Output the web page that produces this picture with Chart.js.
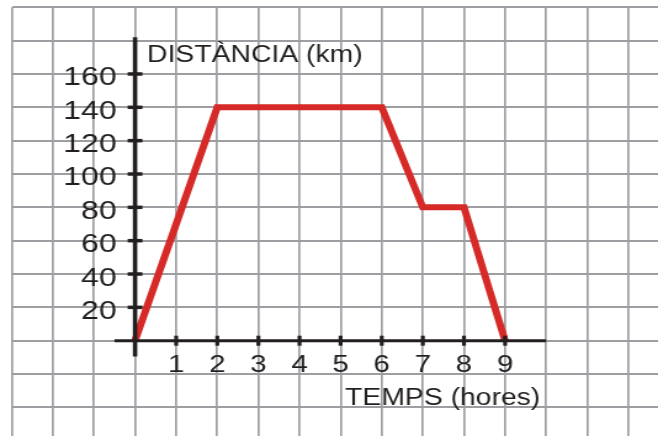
<!DOCTYPE html>
<html>
<head>
<meta charset="utf-8">
<script src="https://cdn.jsdelivr.net/npm/chart.js@4"></script>
<style>
  html, body { margin: 0; padding: 0; background: #fff; }
  #chart { display: block; }
</style>
</head>
<body>
<!-- drawn narrow and stretched wide, like the squashed-grid original -->
<canvas id="chart" width="534" height="436" style="width:658px;height:436px"></canvas>
<script>
const hours = [0, 2, 6, 7, 8, 9];
const distanceKm = [0, 140, 140, 80, 80, 0];
const hourTicks = [1, 2, 3, 4, 5, 6, 7, 8, 9];
const kmTicks = [20, 40, 60, 80, 100, 120, 140, 160];
const xTitle = 'TEMPS (hores)';
const yTitle = 'DISTÀNCIA (km)';

const ink = '#231f20';
const gridGray = '#9d9ea2';

// Axis lines, crossing ticks, labels and titles drawn at the origin
const axesPlugin = {
    id: 'originAxes',
    afterDatasetsDraw: function (chart) {
        const ctx = chart.ctx;
        const xs = chart.scales.x;
        const ys = chart.scales.y;
        const x0 = xs.getPixelForValue(0);
        const y0 = ys.getPixelForValue(0);

        ctx.save();
        ctx.strokeStyle = ink;
        ctx.fillStyle = ink;

        // vertical axis
        ctx.lineWidth = 3.6;
        ctx.beginPath();
        ctx.moveTo(x0, ys.getPixelForValue(182));
        ctx.lineTo(x0, ys.getPixelForValue(-9.5));
        ctx.stroke();

        // horizontal axis
        ctx.lineWidth = 3;
        ctx.beginPath();
        ctx.moveTo(xs.getPixelForValue(-0.5), y0);
        ctx.lineTo(xs.getPixelForValue(10), y0);
        ctx.stroke();

        // y ticks + labels
        ctx.lineWidth = 3.5;
        ctx.font = '26px "Liberation Sans", Arial, sans-serif';
        ctx.textAlign = 'right';
        ctx.textBaseline = 'alphabetic';
        kmTicks.forEach(function (v) {
            const py = ys.getPixelForValue(v);
            ctx.beginPath();
            ctx.moveTo(x0 - 6, py);
            ctx.lineTo(x0 + 6, py);
            ctx.stroke();
            ctx.fillText(String(v), x0 - 15, py + 11.5);
        });

        // x ticks + labels
        ctx.lineWidth = 3.2;
        ctx.font = '24px "Liberation Sans", Arial, sans-serif';
        ctx.textAlign = 'center';
        hourTicks.forEach(function (v) {
            const px = xs.getPixelForValue(v);
            ctx.beginPath();
            ctx.moveTo(px, y0 - 5);
            ctx.lineTo(px, y0 + 5);
            ctx.stroke();
            ctx.fillText(String(v), px, y0 + 31);
        });

        // axis titles
        ctx.font = '23px "Liberation Sans", Arial, sans-serif';
        ctx.textAlign = 'left';
        ctx.fillText(yTitle, x0 + 9.7, ys.getPixelForValue(160) - 12);
        ctx.fillText(xTitle, xs.getPixelForValue(5) + 3.6, y0 + 64);

        ctx.restore();
    }
};

document.addEventListener('DOMContentLoaded', function () {
    const canvas = document.getElementById('chart');

    new Chart(canvas, {
        type: 'line',
        data: {
            datasets: [{
                data: hours.map(function (h, i) { return { x: h, y: distanceKm[i] }; }),
                borderColor: '#d52a27',
                borderWidth: 6,
                borderJoinStyle: 'miter',
                pointRadius: 0,
                tension: 0,
                fill: false
            }]
        },
        options: {
            responsive: false,
            devicePixelRatio: 1,
            animation: false,
            layout: { padding: { left: 9.5, top: 7.3, right: 0, bottom: 0 } },
            plugins: {
                legend: { display: false },
                tooltip: { enabled: false }
            },
            scales: {
                x: {
                    type: 'linear',
                    min: -3,
                    max: 12.72,
                    ticks: { display: false, stepSize: 1, includeBounds: false },
                    grid: { color: gridGray, lineWidth: 1.7, drawTicks: false },
                    border: { display: false }
                },
                y: {
                    type: 'linear',
                    min: -57.17,
                    max: 200,
                    ticks: { display: false, stepSize: 20, includeBounds: false },
                    grid: { color: gridGray, lineWidth: 2, drawTicks: false },
                    border: { display: false }
                }
            }
        },
        plugins: [axesPlugin]
    });
});
</script>
</body>
</html>
